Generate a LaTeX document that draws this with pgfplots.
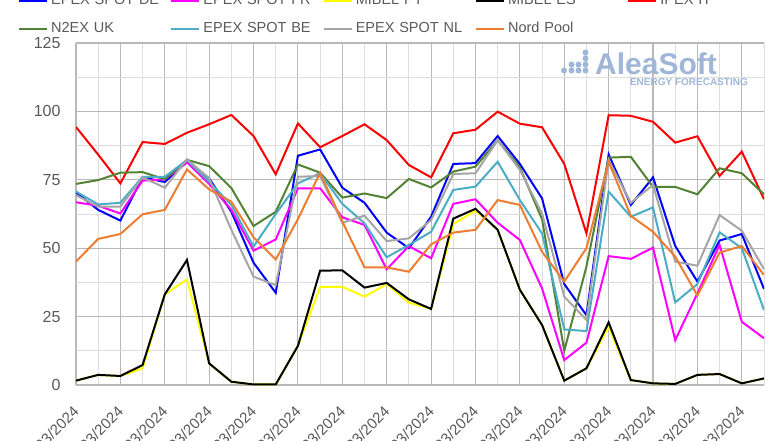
\documentclass[border=0pt]{standalone}
\usepackage{fontspec}
\setmainfont{Liberation Sans}
\usepackage{pgfplots}
\pgfplotsset{compat=1.18}
\usepackage{pgfplotstable}

\definecolor{txtgray}{HTML}{595959}
\definecolor{gridmaj}{HTML}{B8B8B8}
\definecolor{gridmin}{HTML}{DEDEDE}
\definecolor{cDE}{HTML}{0000FF}
\definecolor{cFR}{HTML}{FF00FF}
\definecolor{cPT}{HTML}{FFFF00}
\definecolor{cES}{HTML}{000000}
\definecolor{cIT}{HTML}{FF0000}
\definecolor{cUK}{HTML}{548235}
\definecolor{cBE}{HTML}{4BACC6}
\definecolor{cNL}{HTML}{A5A5A5}
\definecolor{cNP}{HTML}{ED7D31}
\definecolor{logoblue}{HTML}{9FB6D8}

% daily prices, EUR/MWh
\pgfplotstableread{
i  DE   FR   PT   ES   IT   UK   BE   NL   NP
0  70.4 66.8 1.6  1.6  94.3 73.5 70.7 69.4 45.1
1  64.0 65.5 3.7  3.7  84.2 74.9 66.0 65.2 53.4
2  60.1 62.7 3.3  3.3  73.7 77.6 66.6 65.2 55.2
3  75.9 74.7 6.1  7.3  88.8 77.8 76.1 75.9 62.4
4  74.2 75.2 33.1 33.1 88.1 75.2 76.1 72.1 64.0
5  81.6 81.4 38.6 45.7 92.2 82.3 82.2 82.5 78.8
6  75.5 73.5 7.9  7.9  95.3 80.0 74.3 75.5 71.5
7  63.3 64.0 1.2  1.2  98.7 72.0 65.8 56.7 67.0
8  44.7 49.1 0.2  0.2  91.0 58.1 50.6 39.6 54.0
9  33.7 53.2 0.2  0.2  77.0 63.3 62.5 36.5 45.9
10 83.8 71.9 14.3 14.3 95.6 80.6 73.7 76.1 60.6
11 86.1 71.9 35.9 41.8 86.9 77.6 77.4 76.4 77.6
12 72.1 61.3 35.9 41.9 91.0 68.5 66.2 59.3 59.7
13 66.6 58.5 32.3 35.6 95.3 70.0 59.1 61.9 43.0
14 55.7 42.3 36.9 37.3 89.5 68.3 46.7 52.6 43.0
15 50.0 50.8 30.1 31.3 80.4 75.3 51.2 53.6 41.4
16 61.5 46.3 27.8 27.8 75.9 72.2 56.0 60.3 51.4
17 80.8 66.2 58.8 60.8 92.0 78.0 71.3 77.1 55.7
18 81.1 67.9 63.7 64.4 93.3 79.8 72.5 77.4 56.7
19 91.0 59.3 56.7 56.7 99.9 89.5 81.6 89.5 67.6
20 80.8 53.0 34.8 34.8 95.5 79.5 67.6 78.6 65.8
21 68.2 35.3 21.9 21.9 94.2 60.6 55.4 62.7 48.7
22 36.9 9.1  1.6  1.6  80.8 12.5 20.3 32.3 37.8
23 25.5 15.5 6.1  6.1  55.4 43.3 19.7 23.8 50.0
24 84.3 47.1 21.3 22.9 98.6 83.1 70.7 82.2 81.6
25 65.8 46.1 1.8  1.8  98.4 83.4 61.5 66.6 61.8
26 75.9 50.2 0.6  0.6  96.2 72.4 64.9 73.1 56.0
27 50.8 16.4 0.4  0.4  88.6 72.4 30.2 45.1 46.9
28 37.8 33.5 3.7  3.7  90.9 69.7 36.9 43.6 32.7
29 52.8 51.2 4.0  4.0  76.4 79.2 55.8 62.1 48.4
30 55.2 23.1 0.6  0.6  85.3 77.4 50.0 56.4 50.8
31 35.1 17.1 2.4  2.4  67.9 69.7 27.4 42.3 40.2
}\prices

\begin{document}
\begin{tikzpicture}[x=1pt,y=1pt]
\path[use as bounding box] (-76,-55) rectangle (704,385);
\clip (-76,-55) rectangle (704,385);
\begin{axis}[
  at={(0,0)}, anchor=south west,
  scale only axis, width=688pt, height=342pt,
  xmin=0, xmax=31, ymin=0, ymax=125,
  xtick={0,2,...,30}, minor xtick={1,3,...,31},
  ytick={0,25,...,125}, minor ytick={12.5,37.5,...,112.5},
  xticklabels={01/03/2024,03/03/2024,05/03/2024,07/03/2024,09/03/2024,
    11/03/2024,13/03/2024,15/03/2024,17/03/2024,19/03/2024,21/03/2024,
    23/03/2024,25/03/2024,27/03/2024,29/03/2024,31/03/2024},
  /pgf/number format/assume math mode=true,
  grid=both,
  major grid style={draw=gridmaj, line width=1.1pt},
  minor grid style={draw=gridmin, line width=1pt},
  axis line style={draw=none}, major tick length=0pt, minor tick length=0pt,
  tick label style={font=\fontsize{16}{19}\selectfont, text=txtgray},
  yticklabel style={xshift=-12pt},
  xticklabel style={rotate=45, anchor=east, font=\fontsize{15}{18}\selectfont,
    xshift=-13.4pt, yshift=-17pt},
  legend columns=5,
  legend style={draw=none, fill=none, anchor=north west, at={(-0.0843,1.148)},
    inner sep=0pt, row sep=11pt, column sep=0pt,
    font=\fontsize{14.5}{17}\selectfont, text=txtgray,
    nodes={text width=116.3pt, inner xsep=3pt, text height=10pt, text depth=3pt, align=left}},
  legend image code/.code={\draw[#1] (0pt,0pt) -- (28pt,0pt);},
  every axis plot/.append style={line width=2pt, mark=none},
]
\addplot[cDE] table[x=i, y=DE] {\prices};
\addplot[cFR] table[x=i, y=FR] {\prices};
\addplot[cPT] table[x=i, y=PT] {\prices};
\addplot[cES] table[x=i, y=ES] {\prices};
\addplot[cIT] table[x=i, y=IT] {\prices};
\addplot[cUK] table[x=i, y=UK] {\prices};
\addplot[cBE] table[x=i, y=BE] {\prices};
\addplot[cNL] table[x=i, y=NL] {\prices};
\addplot[cNP] table[x=i, y=NP] {\prices};
\legend{EPEX SPOT DE, EPEX SPOT FR, MIBEL PT, MIBEL ES, IPEX IT,
  N2EX UK, EPEX SPOT BE, EPEX SPOT NL, Nord Pool}
\end{axis}
% watermark logo
\fill[logoblue] (488,314.5) circle (3);
\fill[logoblue] (495.5,314.5) circle (3) (495.5,320.5) circle (3);
\fill[logoblue] (502.5,314.5) circle (3) (502.5,320.5) circle (3);
\fill[logoblue] (509.5,314.5) circle (3) (509.5,320.5) circle (3)
  (509.5,326.5) circle (3) (509.5,332.5) circle (3);
\node[anchor=base west, inner sep=0pt, text=logoblue, font=\bfseries\fontsize{30}{32}\selectfont] at (519,310) {AleaSoft};
\node[anchor=base east, inner sep=0pt, text=logoblue, font=\bfseries\fontsize{10}{12}\selectfont] at (672,300) {ENERGY FORECASTING};
\end{tikzpicture}
\end{document}
